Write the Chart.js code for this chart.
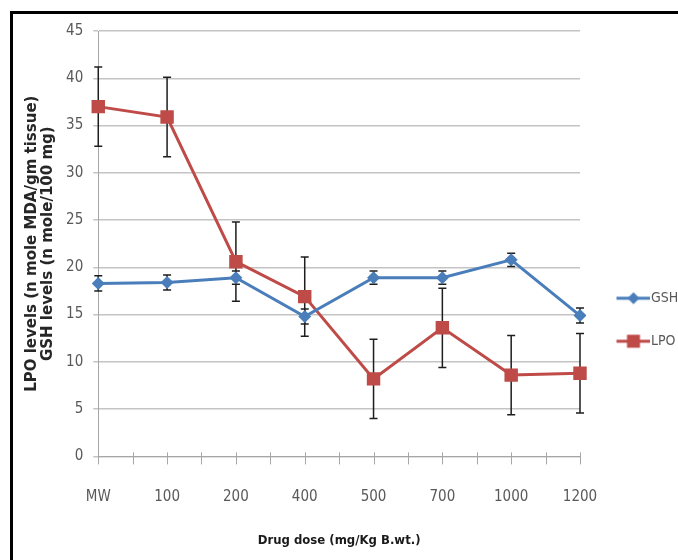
<!DOCTYPE html>
<html>
<head>
<meta charset="utf-8">
<script src="https://cdn.jsdelivr.net/npm/chart.js@4.4.1/dist/chart.umd.min.js"></script>
<style>
  html, body { margin: 0; padding: 0; background: #fff; }
  #wrap { position: relative; width: 678px; height: 560px; }
  #frame { position: absolute; left: 10px; top: 11px; right: 0; bottom: 0;
           border-top: 3px solid #000; border-left: 3px solid #000; pointer-events: none; }
</style>
</head>
<body>
<div id="wrap">
  <canvas id="doseChart" width="678" height="560"></canvas>
  <div id="frame"></div>
</div>
<script>
// valores
const doses = ['MW', '100', '200', '400', '500', '700', '1000', '1200'];
const gshValues = [18.3, 18.4, 18.9, 14.8, 18.9, 18.9, 20.8, 14.9];
const gshErrors = [0.8, 0.8, 0.7, 0.8, 0.7, 0.7, 0.7, 0.8];
const lpoValues = [37.0, 35.9, 20.6, 16.9, 8.2, 13.6, 8.6, 8.8];
const lpoErrors = [4.2, 4.2, 4.2, 4.2, 4.2, 4.2, 4.2, 4.2];
const yTicks = [0, 5, 10, 15, 20, 25, 30, 35, 40, 45];

const BLUE = '#4a7ebb'
const RED = '#be4b48'
const narrow = "'Liberation Sans Narrow', 'DejaVu Sans Condensed', sans-serif"

// icone da legenda: linha + marcador
const legendIcon = (color, shape) => {
  const c = document.createElement('canvas')
  c.width = 46; c.height = 18
  const g = c.getContext('2d')
  g.strokeStyle = color; g.fillStyle = color; g.lineWidth = 3
  g.beginPath(); g.moveTo(13, 9); g.lineTo(46, 9); g.stroke()
  g.beginPath()
  if (shape === 'rect') {
    g.rect(30 - 6.5, 9 - 6.5, 13, 13)
  } else {
    g.moveTo(30, 3); g.lineTo(36, 9); g.lineTo(30, 15); g.lineTo(24, 9); g.closePath()
  }
  g.fill()
  return c
}

// barras de erro desenhadas pelas escalas do Chart.js
const errorBars = {
  id: 'errorBars',
  beforeDatasetsDraw(chart) {
    const { ctx, scales: { x, y } } = chart
    ctx.save()
    ctx.strokeStyle = '#1e1e1e'
    ctx.lineWidth = 1.5
    chart.data.datasets.forEach(ds => {
      ds.data.forEach((v, i) => {
        const e = ds.errors[i]
        const px = x.getPixelForValue(i)
        const top = y.getPixelForValue(v + e)
        const bot = y.getPixelForValue(v - e)
        ctx.beginPath()
        ctx.moveTo(px, top); ctx.lineTo(px, bot)
        ctx.moveTo(px - 4, top); ctx.lineTo(px + 4, top)
        ctx.moveTo(px - 4, bot); ctx.lineTo(px + 4, bot)
        ctx.stroke()
      })
    })
    ctx.restore()
  }
}

// marcas do eixo x (nas categorias e entre elas)
const axisTicks = {
  id: 'axisTicks',
  beforeDatasetsDraw(chart) {
    const { ctx, scales: { x } } = chart
    const base = chart.chartArea.bottom
    ctx.save()
    ctx.strokeStyle = '#a6a6a6'
    ctx.lineWidth = 1
    for (let i = 0; i < doses.length; i++) {
      const p = x.getPixelForValue(i)
      const marks = [p]
      if (i < doses.length - 1) marks.push((p + x.getPixelForValue(i + 1)) / 2)
      marks.forEach(m => {
        ctx.beginPath()
        ctx.moveTo(Math.round(m) + 0.5, base - 4)
        ctx.lineTo(Math.round(m) + 0.5, base + 8)
        ctx.stroke()
      })
    }
    ctx.restore()
  }
}

const ctx = document.getElementById('doseChart')

new Chart(ctx, {
  type: 'line',
  data: {
    labels: doses,
    datasets: [
      {
        label: 'GSH',
        data: gshValues,
        errors: gshErrors,
        borderColor: BLUE,
        backgroundColor: BLUE,
        borderWidth: 3,
        pointStyle: 'rectRot',
        pointRadius: 6.5,
        pointBorderWidth: 0,
        tension: 0
      },
      {
        label: 'LPO',
        data: lpoValues,
        errors: lpoErrors,
        borderColor: RED,
        backgroundColor: RED,
        borderWidth: 3,
        pointStyle: 'rect',
        pointRadius: 9.5,
        pointBorderWidth: 0,
        tension: 0
      }
    ]
  },
  options: {
    responsive: false,
    animation: false,
    layout: { padding: { top: 31, left: 24, bottom: 6, right: 0 } },
    plugins: {
      tooltip: { enabled: false },
      legend: {
        position: 'right',
        maxWidth: 98,
        title: { display: true, text: '', padding: 20 },
        labels: {
          usePointStyle: true,
          pointStyleWidth: 35,
          padding: 29,
          color: '#595959',
          font: { family: narrow, size: 14 },
          generateLabels: (chart) => chart.data.datasets.map((ds, i) => ({
            text: ds.label,
            fillStyle: ds.borderColor,
            strokeStyle: ds.borderColor,
            lineWidth: 0,
            pointStyle: legendIcon(ds.borderColor, i === 0 ? 'rectRot' : 'rect'),
            datasetIndex: i,
            fontColor: '#595959'
          }))
        }
      }
    },
    scales: {
      x: {
        offset: false,
        grid: { display: false, tickLength: 8 },
        border: { display: true, color: '#a6a6a6', width: 1 },
        ticks: {
          padding: 24,
          color: '#595959',
          maxRotation: 0,
          font: { family: narrow, size: 15 }
        },
        title: {
          display: true,
          text: 'Drug dose (mg/Kg B.wt.)',
          color: '#1a1a1a',
          padding: { top: 2, bottom: 6 },
          font: { family: narrow, size: 13, weight: 'bold' }
        }
      },
      y: {
        min: 0,
        max: 45,
        afterBuildTicks: (scale) => { scale.ticks = yTicks.map(v => ({ value: v })) },
        grid: { color: '#c4c4c4', lineWidth: 1.5, tickLength: 5 },
        border: { display: true, color: '#a6a6a6', width: 1 },
        ticks: {
          padding: 10,
          color: '#595959',
          font: { family: narrow, size: 15 }
        },
        title: {
          display: true,
          text: ['LPO levels (n mole MDA/gm tissue)', 'GSH levels (n mole/100 mg)'],
          color: '#262626',
          padding: { top: 0, bottom: 0 },
          font: { family: "'DejaVu Sans', sans-serif", size: 15, weight: 'bold', lineHeight: 1.07 }
        }
      }
    }
  },
  plugins: [errorBars, axisTicks]
})
</script>
</body>
</html>
